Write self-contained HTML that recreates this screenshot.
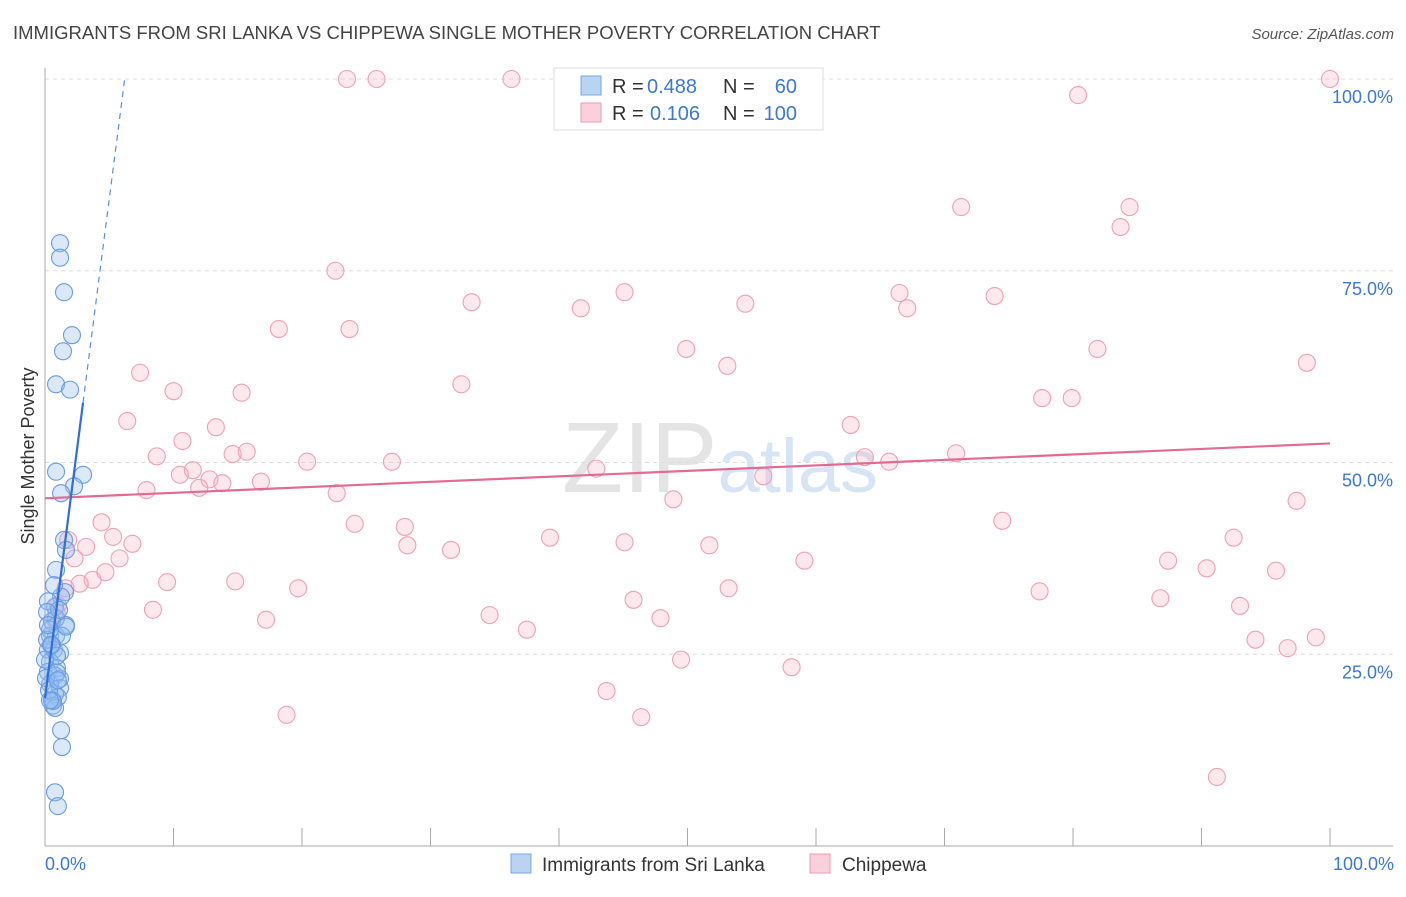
<!DOCTYPE html>
<html><head><meta charset="utf-8"><style>
body{margin:0;background:#fff;font-family:"Liberation Sans",sans-serif;}
svg text{font-family:"Liberation Sans",sans-serif;}
</style></head><body>
<svg id="chart" width="1406" height="892" xmlns="http://www.w3.org/2000/svg">
<text x="13" y="39" font-size="18.5" fill="#444">IMMIGRANTS FROM SRI LANKA VS CHIPPEWA SINGLE MOTHER POVERTY CORRELATION CHART</text>
<text x="1394" y="39" font-size="15" fill="#555" font-style="italic" text-anchor="end">Source: ZipAtlas.com</text>
<text x="720" y="492" font-size="100" fill="#e4e4e4" text-anchor="middle" font-family="Liberation Serif">ZIP<tspan fill="#d6e4f5" font-family="Liberation Sans" font-size="76">atlas</tspan></text>
<g id="grid"></g>
<g id="axes"></g>
<g id="pts"></g>
<g id="lines"></g>
<text transform="translate(34,456) rotate(-90)" font-size="18" fill="#333" text-anchor="middle">Single Mother Poverty</text>
<text x="45" y="870" font-size="18" fill="#3a78d4">0.0%</text>
<text x="1394" y="870" font-size="18" fill="#3a78d4" text-anchor="end">100.0%</text>
<g>
<rect x="554" y="68" width="269" height="62" fill="#fff" stroke="#ddd"/>
<rect x="581" y="76" width="20" height="19" fill="#b9d3f3" stroke="#7aa7e0"/>
<rect x="581" y="103" width="20" height="19" fill="#fbd0dc" stroke="#ee9ab3"/>
<text x="612" y="93" font-size="20" fill="#333">R =</text>
<text x="647" y="93" font-size="20" fill="#3a78d4">0.488</text>
<text x="723" y="93" font-size="20" fill="#333">N =</text>
<text x="797" y="93" font-size="20" fill="#3a78d4" text-anchor="end">60</text>
<text x="612" y="120" font-size="20" fill="#333">R =</text>
<text x="650" y="120" font-size="20" fill="#3a78d4">0.106</text>
<text x="723" y="120" font-size="20" fill="#333">N =</text>
<text x="797" y="120" font-size="20" fill="#3a78d4" text-anchor="end">100</text>
</g>
<g>
<rect x="511" y="854" width="20" height="19" fill="#b9d3f3" stroke="#7aa7e0"/>
<text x="542" y="871" font-size="19" fill="#333">Immigrants from Sri Lanka</text>
<rect x="810" y="854" width="20" height="19" fill="#fbd0dc" stroke="#ee9ab3"/>
<text x="842" y="871" font-size="19" fill="#333">Chippewa</text>
</g>
</svg>
<script>
const yTicks=[25,50,75,100];
const yTickLabels=["25.0%","50.0%","75.0%","100.0%"];
const blueX=[1.17,1.17,1.48,2.1,1.4,0.86,1.95,0.86,2.96,2.26,1.25,1.48,1.63,0.86,1.56,1.25,0.78,0.23,0.86,1.63,0.39,0.86,1.32,0.23,0.7,1.17,0.39,0.93,0.23,0.78,1.17,0.39,1.17,0.78,1.0,0.54,0.62,0.78,1.25,1.32,0.78,1.0,0.54,0.39,0.16,0.54,0.93,0.08,0.31,0.62,0.47,1.09,0.16,0.7,1.63,0,0.93,0.39,0.23,1.0];
const blueY=[78.6,76.7,72.2,66.6,64.5,60.2,59.5,48.8,48.4,46.9,46.0,39.9,38.6,36.0,33.1,32.5,31.2,31.9,29.7,28.8,27.4,27.4,27.4,25.6,25.6,25.2,24.0,23.2,22.7,22.2,21.8,21.1,20.6,19.8,19.4,19.0,18.3,18.0,15.1,12.9,7.0,5.2,29.3,28.2,26.9,26.2,24.8,21.9,20.3,18.9,26.2,30.8,30.5,34.0,28.6,24.3,22.6,19.0,28.8,21.6];
const pinkX=[23.5,25.8,36.3,100,80.4,71.3,84.4,83.7,22.6,33.2,45.1,41.7,54.5,66.5,67.1,73.9,18.2,23.7,49.9,81.9,53.1,98.2,7.4,32.4,10.0,15.3,77.6,79.9,6.4,62.7,13.3,10.7,14.6,15.7,8.7,20.4,27.0,63.8,65.7,70.9,42.9,10.5,11.5,12.8,12.0,13.8,16.8,7.9,22.7,55.9,48.9,97.4,4.4,24.1,28.0,74.5,5.3,6.8,1.8,3.2,39.3,45.1,51.7,28.2,31.6,92.5,2.3,5.8,4.7,3.7,2.7,1.6,9.5,14.8,87.4,59.1,90.4,95.8,19.7,53.2,77.4,45.8,86.8,93.0,1.0,0.9,0.8,8.4,17.2,34.6,47.9,37.5,94.2,98.9,96.7,49.5,58.1,43.7,46.4,18.8,91.2];
const pinkY=[100,100,100,100,97.9,83.3,83.3,80.7,75.0,70.9,72.2,70.1,70.7,72.1,70.1,71.7,67.4,67.4,64.8,64.8,62.6,63.0,61.7,60.2,59.3,59.1,58.4,58.4,55.4,54.9,54.6,52.8,51.1,51.4,50.8,50.1,50.1,50.7,50.1,51.2,49.2,48.4,49.0,47.8,46.7,47.3,47.5,46.4,46.0,48.2,45.2,45.0,42.2,42.0,41.6,42.4,40.3,39.4,39.9,39.0,40.2,39.6,39.2,39.2,38.6,40.2,37.5,37.5,35.7,34.7,34.2,33.6,34.4,34.5,37.2,37.2,36.2,35.9,33.6,33.6,33.2,32.1,32.3,31.3,31.4,30.4,29.5,30.8,29.5,30.1,29.7,28.2,26.9,27.2,25.8,24.3,23.3,20.2,16.8,17.1,9.0];
const NS="http://www.w3.org/2000/svg";
const X0=45,X1=1330,Y0=846,Y100=79;
const sx=v=>X0+(X1-X0)*v/100;
const sy=v=>Y0-(Y0-Y100)*v/100;
function mk(tag,attrs,parent){const e=document.createElementNS(NS,tag);for(const k in attrs)e.setAttribute(k,attrs[k]);parent.appendChild(e);return e;}
const grid=document.getElementById('grid'),axes=document.getElementById('axes'),pts=document.getElementById('pts'),lines=document.getElementById('lines');
yTicks.forEach((t,i)=>{
 const l=mk('line',{x1:45,x2:1393,y1:sy(t),y2:sy(t),stroke:'#ddd','stroke-dasharray':'4,4'},grid);
 
 
 const tx=mk('text',{x:1393,y:sy(t)+24,'font-size':18,fill:'#3a78d4','text-anchor':'end'},grid);
 tx.textContent=yTickLabels[i];
 
 
});
const ya=mk('line',{x1:45,x2:45,y1:68,y2:846,stroke:'#aaa'},axes);


const xa=mk('line',{x1:45,x2:1393,y1:846,y2:846,stroke:'#aaa'},axes);


for(let k=0;k<=10;k++){const t=mk('line',{x1:sx(k*10),x2:sx(k*10),y1:828,y2:846,stroke:'#aaa'},axes);
 
 }
function drawPts(xs,ys,fill,stroke,name){xs.forEach((x,i)=>{const c=mk('circle',{cx:sx(x),cy:sy(ys[i]),r:8.5,fill:fill,stroke:stroke,'stroke-width':1.1},pts);
 
 });}
drawPts(pinkX,pinkY,'rgba(248,180,200,0.3)','#efa0b8','chippewa-point');
drawPts(blueX,blueY,'rgba(150,190,240,0.35)','#6b9be0','sri-lanka-point');
function fit(xs,ys){const n=xs.length;let mx=0,my=0;xs.forEach((x,i)=>{mx+=x;my+=ys[i];});mx/=n;my/=n;let sxy=0,sxx=0;xs.forEach((x,i)=>{sxy+=(x-mx)*(ys[i]-my);sxx+=(x-mx)**2;});const b=sxy/sxx;return [my-b*mx,b];}
const [pa,pb]=fit(pinkX,pinkY);
const pl=mk('line',{x1:sx(0),y1:sy(pa),x2:sx(100),y2:sy(pa+pb*100),stroke:'#e36a93','stroke-width':2.2},lines);


const [ba,bb]=fit(blueX,blueY);
const bmax=Math.max(...blueX);
const bl=mk('line',{x1:sx(0),y1:sy(ba),x2:sx(bmax),y2:sy(ba+bb*bmax),stroke:'#2f6fd6','stroke-width':2.2},lines);


const xTop=(100-ba)/bb;
const bd=mk('line',{x1:sx(bmax),y1:sy(ba+bb*bmax),x2:sx(xTop),y2:sy(100),stroke:'#5a8fd8','stroke-width':1.2,'stroke-dasharray':'6,5'},lines);


</script>
</body></html>
